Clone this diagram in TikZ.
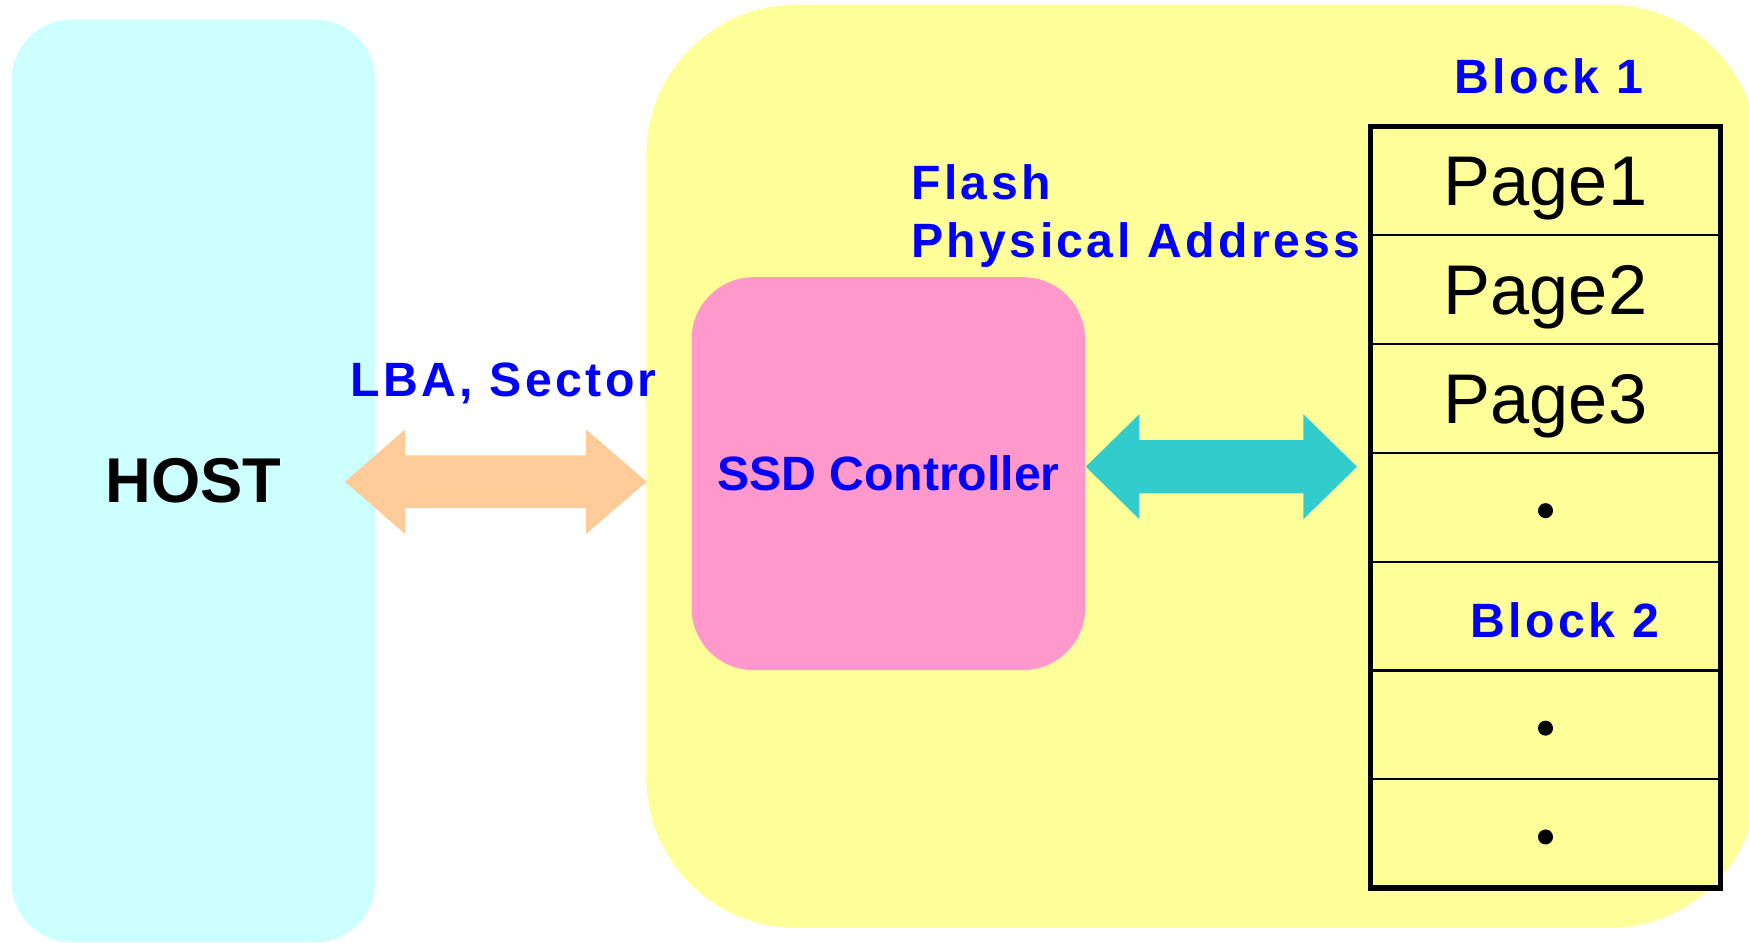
\documentclass[tikz,border=0pt]{standalone}
\usepackage{fontspec}
\setmainfont{Liberation Sans}
\newfontfamily\widefont[LetterSpace=7]{Liberation Sans}
\usepackage{tikz}
\usetikzlibrary{positioning}
\definecolor{hostcyan}{HTML}{CCFFFF}
\definecolor{ssdyellow}{HTML}{FFFF99}
\definecolor{ctrlpink}{HTML}{FF99CC}
\definecolor{lbaorange}{HTML}{FFCC99}
\definecolor{ppateal}{HTML}{33CCCC}
\definecolor{lblblue}{HTML}{0000FF}

\begin{document}
\begin{tikzpicture}[x=0.01cm,y=-0.01cm,
    panel/.style={inner sep=0pt,outer sep=0pt},
    bluelbl/.style={inner sep=0pt,text=lblblue,font=\widefont\bfseries\fontsize{13.7}{16.3}\selectfont},
    pagecell/.style={draw,line width=0.6pt,inner sep=0pt,outer sep=0pt,
      minimum width=3.5cm,minimum height=1.087cm,text depth=0pt,
      font=\fontsize{20}{24}\selectfont}]
      \useasboundingbox (0,0) rectangle (1749,942);
      \clip (0,0) rectangle (1749,942);

      % host and ssd
      \node[panel,fill=hostcyan,rounded corners=0.6cm,minimum width=3.633cm,minimum height=9.22cm,
        font=\bfseries\fontsize{18}{21}\selectfont] (host) at (193.35,481) {HOST};
      \node[panel,fill=ssdyellow,rounded corners=1.5cm,minimum width=11.113cm,minimum height=9.227cm] (ssd) at (1202.35,466.35) {};
      \node[panel,fill=ctrlpink,rounded corners=0.62cm,minimum width=3.933cm,minimum height=3.927cm,
        text=lblblue,font=\bfseries\fontsize{13.7}{16.3}\selectfont] (ctrl) at (888.35,473.65) {SSD Controller};

      % block of pages
      \node[pagecell] (pg1) at (1545.5,181.05) {Page1};
      \node[pagecell,below=0pt of pg1] (pg2) {Page2};
      \node[pagecell,below=0pt of pg2] (pg3) {Page3};
      \node[pagecell,below=0pt of pg3] (pg4) {};
      \node[pagecell,below=0pt of pg4] (pg5) {};
      \node[pagecell,below=0pt of pg5] (pg6) {};
      \node[pagecell,below=0pt of pg6] (pg7) {};
      \draw[line width=1.55pt] (pg1.north west) rectangle (pg7.south east);
      \fill (pg4.center) ++(0,3.3) circle[radius=0.075cm];
      \fill (pg6.center) ++(0,3.3) circle[radius=0.075cm];
      \fill (pg7.center) ++(0,3.3) circle[radius=0.075cm];

      % labels
      \node[bluelbl,anchor=base west] (blk1) at (1454,93) {Block 1};
      \node[bluelbl,anchor=base west] (blk2) at (1470,637.3) {Block 2};
      \node[bluelbl,anchor=base west,align=left] (fpa) at (910.7,257.3) {Flash\\Physical Address};
      \node[bluelbl,anchor=base west] (lba) at (350,396.7) {LBA, Sector};

      % fat arrows
      \fill[lbaorange] (345,481.7) -- (405,429.4) -- (405,455.4) -- (586,455.4) -- (586,429.4) -- (646.7,481.7)
        -- (586,534) -- (586,508) -- (405,508) -- (405,534) -- cycle;
      \fill[ppateal] (1085.7,466.7) -- (1139.3,414.2) -- (1139.3,440) -- (1303.3,440) -- (1303.3,414.2) -- (1357,466.7)
        -- (1303.3,519.2) -- (1303.3,493.4) -- (1139.3,493.4) -- (1139.3,519.2) -- cycle;
\end{tikzpicture}
\end{document}
